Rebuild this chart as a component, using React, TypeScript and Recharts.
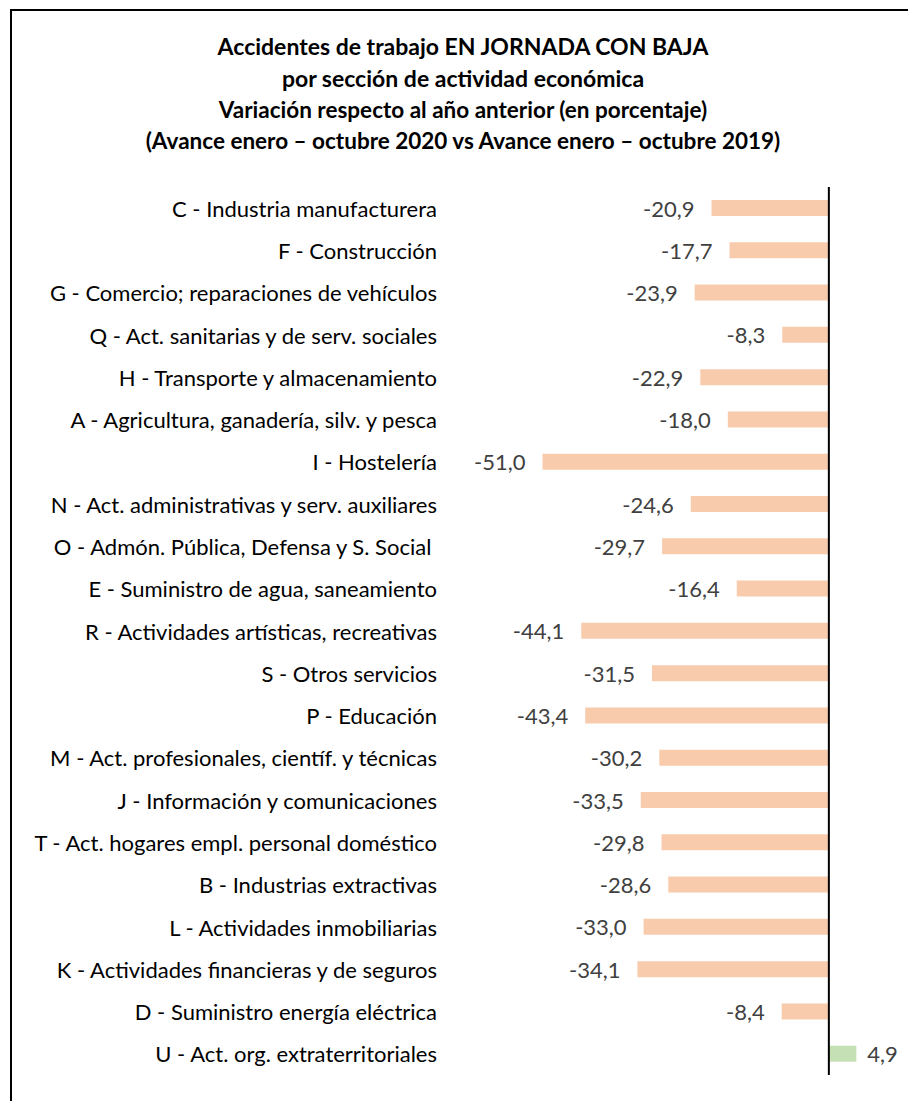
import { BarChart, Bar, XAxis, YAxis, Cell, LabelList, ReferenceLine } from "recharts";

const FONT = "Lato, 'Noto Sans', sans-serif";
const COLOR_NEG = "#F8CBAD";
const COLOR_POS = "#C5E0B4";

const titleLines = [
  "Accidentes de trabajo EN JORNADA CON BAJA",
  "por sección de actividad económica",
  "Variación respecto al año anterior (en porcentaje)",
  "(Avance enero – octubre 2020 vs Avance enero – octubre 2019)",
];

const sections = [
  "C - Industria manufacturera",
  "F - Construcción",
  "G - Comercio; reparaciones de vehículos",
  "Q - Act. sanitarias y de serv. sociales",
  "H - Transporte y almacenamiento",
  "A - Agricultura, ganadería, silv. y pesca",
  "I - Hostelería",
  "N - Act. administrativas y serv. auxiliares",
  "O - Admón. Pública, Defensa y S. Social ",
  "E - Suministro de agua, saneamiento",
  "R - Actividades artísticas, recreativas",
  "S - Otros servicios",
  "P - Educación",
  "M - Act. profesionales, científ. y técnicas",
  "J - Información y comunicaciones",
  "T - Act. hogares empl. personal doméstico",
  "B - Industrias extractivas",
  "L - Actividades inmobiliarias",
  "K - Actividades financieras y de seguros",
  "D - Suministro energía eléctrica",
  "U - Act. org. extraterritoriales",
];

const variation = [
  -20.9, -17.7, -23.9, -8.3, -22.9, -18.0, -51.0, -24.6, -29.7, -16.4, -44.1,
  -31.5, -43.4, -30.2, -33.5, -29.8, -28.6, -33.0, -34.1, -8.4, 4.9,
];

const data = sections.map((name, i) => ({ name, value: variation[i] }));

const fmt = (v: number) => v.toFixed(1).replace(".", ",");

// eslint-disable-next-line @typescript-eslint/no-explicit-any
const CategoryTick = (props: any) => {
  const { y, payload } = props;
  return (
    <text
      x={437}
      y={y}
      textAnchor="end"
      dominantBaseline="central"
      fontSize={22}
      fill="#000"
      style={{ fontFamily: FONT, whiteSpace: "pre" }}
    >
      {payload.value}
    </text>
  );
};

// eslint-disable-next-line @typescript-eslint/no-explicit-any
const ValueLabel = (props: any) => {
  const { x, y, width, height, value } = props;
  const left = Math.min(x, x + width);
  const right = Math.max(x, x + width);
  const neg = value < 0;
  return (
    <text
      x={neg ? left - 17 : right + 11}
      y={y + height / 2}
      textAnchor={neg ? "end" : "start"}
      dominantBaseline="central"
      fontSize={22}
      fill="#404040"
      style={{ fontFamily: FONT }}
    >
      {fmt(value)}
    </text>
  );
};

export default function App() {
  return (
    <div style={{ position: "absolute", left: 0, top: 0, width: 908, height: 1101, background: "#fff", overflow: "hidden" }}>
      {/* frame */}
      <div
        style={{
          position: "absolute",
          left: 10,
          top: 9,
          width: 920,
          height: 1120,
          borderLeft: "2px solid #000",
          borderTop: "2px solid #000",
        }}
      />
      {/* title */}
      <div
        style={{
          position: "absolute",
          left: 18,
          top: 30,
          width: 890,
          textAlign: "center",
          fontFamily: FONT,
          fontWeight: 700,
          color: "#000",
          whiteSpace: "nowrap",
        }}
      >
        <div style={{ fontSize: 23, lineHeight: "32px" }}>{titleLines[0]}</div>
        <div style={{ fontSize: 23, lineHeight: "32px" }}>{titleLines[1]}</div>
        <div style={{ fontSize: 22.5, lineHeight: "31px" }}>{titleLines[2]}</div>
        <div style={{ fontSize: 22.5, lineHeight: "31px" }}>{titleLines[3]}</div>
      </div>
      <div style={{ position: "absolute", left: 0, top: 0 }}>
        <BarChart
          width={908}
          height={1101}
          data={data}
          layout="vertical"
          margin={{ top: 187, right: 23, bottom: 26, left: 0 }}
          barSize={16}
        >
          <XAxis type="number" domain={[-60, 10]} hide />
          <YAxis
            type="category"
            dataKey="name"
            width={492}
            axisLine={false}
            tickLine={false}
            tick={CategoryTick}
            interval={0}
          />
          <Bar dataKey="value" isAnimationActive={false}>
            {data.map((d, i) => (
              <Cell key={i} fill={d.value < 0 ? COLOR_NEG : COLOR_POS} />
            ))}
            <LabelList dataKey="value" content={ValueLabel} />
          </Bar>
          <ReferenceLine x={0} stroke="#000" strokeWidth={2} ifOverflow="visible" />
        </BarChart>
      </div>
    </div>
  );
}
